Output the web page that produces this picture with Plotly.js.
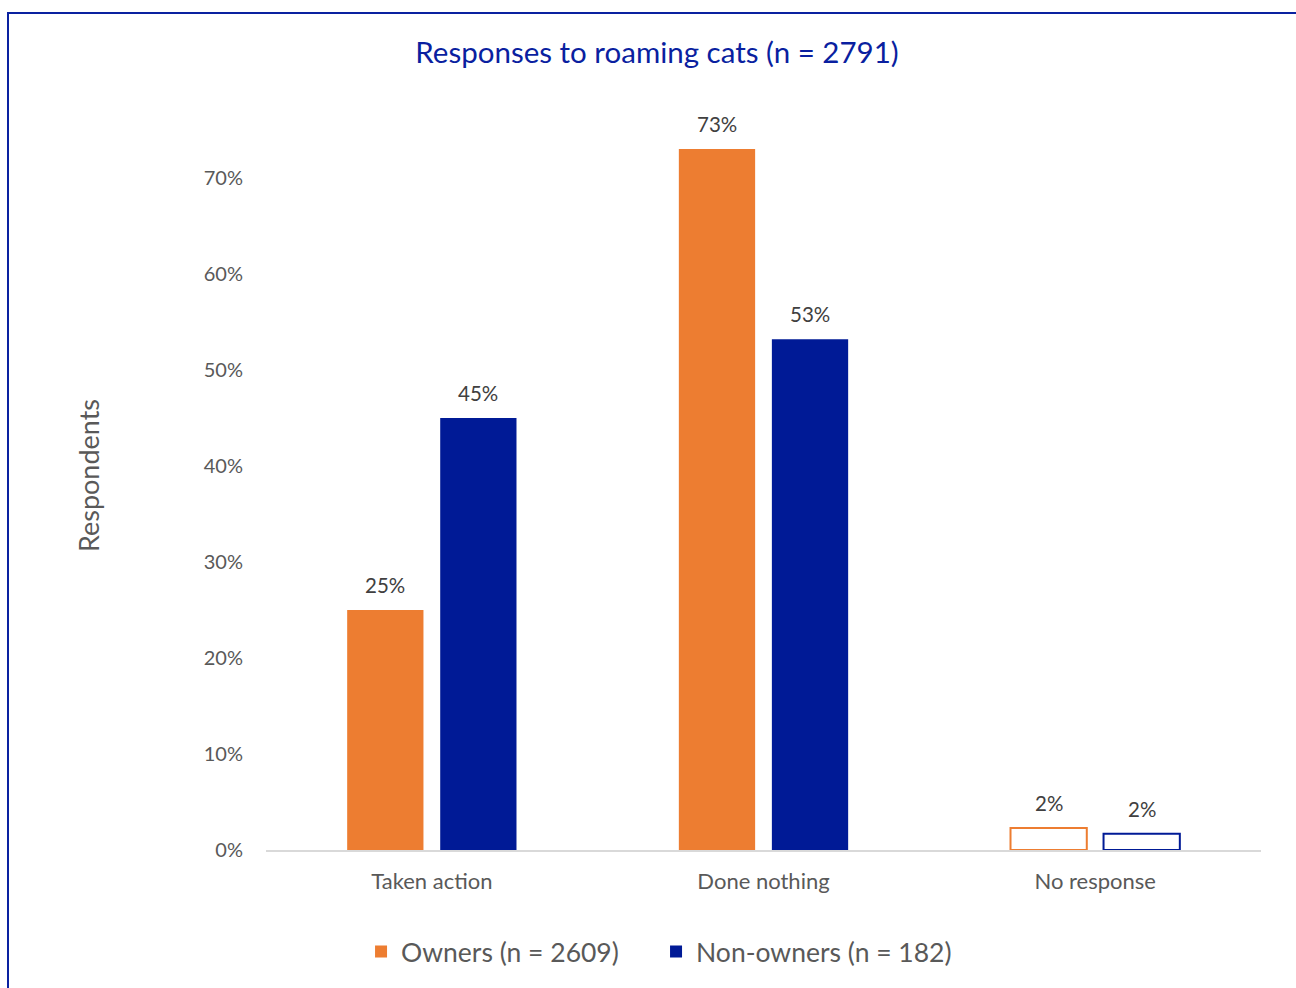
<!DOCTYPE html>
<html><head><meta charset="utf-8">
<script src="https://cdn.plot.ly/plotly-3.0.1.min.js"></script>
<style>
html,body{margin:0;padding:0;background:#fff;}
#wrap{position:relative;width:1296px;height:988px;overflow:hidden;}
#chart{position:absolute;left:0;top:0;width:1296px;height:988px;}
#frame{position:absolute;left:7px;top:12px;width:1300px;height:990px;border-left:2px solid #0A21A0;border-top:2px solid #0A21A0;pointer-events:none;}
</style></head>
<body><div id="wrap"><div id="chart"></div><div id="frame"></div></div>
<script>
const categories = ["Taken action", "Done nothing", "No response"];
const ownersName = "Owners (n = 2609)";
const nonOwnersName = "Non-owners (n = 182)";
const ownersValues = [0.25, 0.73, 0.023];
const nonOwnersValues = [0.45, 0.532, 0.017];
const yTickVals = [0, 0.1, 0.2, 0.3, 0.4, 0.5, 0.6, 0.7];
const yTickText = ["0%", "10%", "20%", "30%", "40%", "50%", "60%", "70%"];

const ORANGE = "#ED7D31", BLUE = "#001A96";
const FONT = "Lato, 'Open Sans', sans-serif";
const isOutline = c => c === "No response";

function trace(name, vals, col) {
  return {
    type: "bar", name: name, x: categories, y: vals,
    marker: {
      color: categories.map(c => isOutline(c) ? "#FFFFFF" : col),
      line: {color: col, width: categories.map(c => isOutline(c) ? 2 : 0)}
    },
    hoverinfo: "x+y"
  };
}
const data = [trace(ownersName, ownersValues, ORANGE), trace(nonOwnersName, nonOwnersValues, BLUE)];

const annotations = [];
[[ownersValues, -46.5], [nonOwnersValues, 46.5]].forEach(([vals, shift]) => {
  vals.forEach((v, i) => annotations.push({
    x: categories[i], y: v, xref: "x", yref: "y", xshift: shift, yshift: 11,
    yanchor: "bottom", showarrow: false, text: Math.round(v * 100) + "%",
    font: {family: FONT, size: 20.5, color: "#404040"}
  }));
});

const layout = {
  width: 1296, height: 988,
  margin: {l: 266, r: 35, t: 101, b: 138},
  paper_bgcolor: "#FFFFFF", plot_bgcolor: "#FFFFFF",
  title: {text: "Responses to roaming cats (n = 2791)", x: 657 / 1296, xref: "container", xanchor: "center",
          y: 1 - 53 / 988, yref: "container", yanchor: "middle",
          font: {family: FONT, size: 29.5, color: "#0A1FA0"}},
  barmode: "group", bargap: 0.439, bargroupgap: 0.18,
  xaxis: {tickfont: {family: FONT, size: 22, color: "#595959"}, showline: true, linecolor: "#D9D9D9",
          linewidth: 1.5, ticks: "", showgrid: false, ticklabelstandoff: 11},
  yaxis: {range: [0, 0.78], tickvals: yTickVals, ticktext: yTickText, showgrid: false, zeroline: false,
          showline: false, ticks: "", tickfont: {family: FONT, size: 20, color: "#595959"}, ticklabelstandoff: 22,
          title: {text: "Respondents", standoff: 96, font: {family: FONT, size: 27, color: "#595959"}}},
  showlegend: true,
  legend: {orientation: "h", x: 0.392, xanchor: "center", y: -0.136, yanchor: "middle",
           font: {family: FONT, size: 26.5, color: "#595959"}, itemwidth: 30, traceorder: "normal",
           entrywidth: 250},
  annotations: annotations
};
Plotly.newPlot("chart", data, layout, {displayModeBar: false, responsive: false});
</script></body></html>
